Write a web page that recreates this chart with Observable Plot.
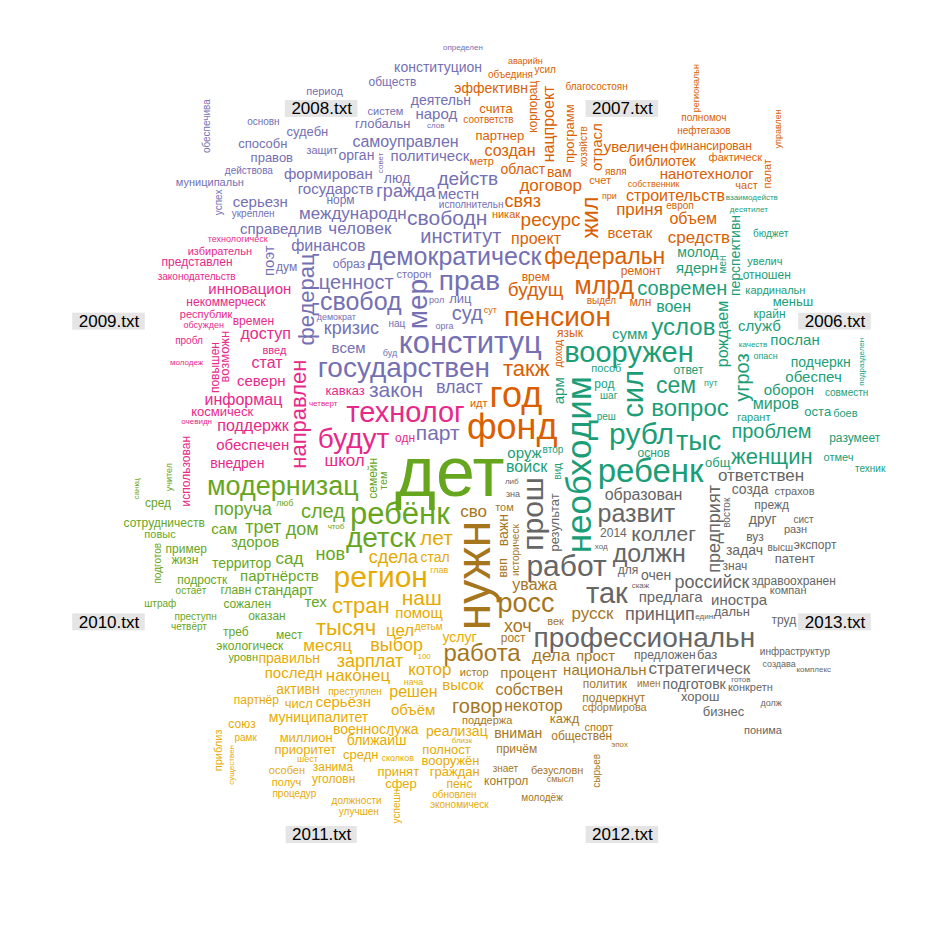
<!DOCTYPE html>
<html><head><meta charset="utf-8">
<script src="https://cdn.jsdelivr.net/npm/d3@7"></script>
<script src="https://cdn.jsdelivr.net/npm/@observablehq/plot@0.6"></script>
<style>html,body{margin:0;padding:0;background:#fff;overflow:hidden}</style>
</head><body><div id="chart"></div>
<script>
const groups = ["2006.txt","2007.txt","2008.txt","2009.txt","2010.txt","2011.txt","2012.txt","2013.txt"];
const palette = ["#1B9E77","#D95F02","#7570B3","#E7298A","#66A61E","#E6AB02","#A6761D","#666666"];

// [word, weight] (weight ~ relative frequency score)
const words2006 = [["необходим",35],["ребенк",33],["вооружен",29],["рубл",30],["сил",29],["тыс",27],["вопрос",24],["услов",24],["сем",23],["женщин",22],["современ",20],["проблем",20],["угроз",20],["арм",15],["войск",16],["воен",16],["оруж",15],["оста",13],["род",12],["рождаем",16],["миров",16],["ядерн",15],["молод",14],["гарант",11],["основ",12],["перспективн",14],["разумеет",12],["увелич",11],["бюджет",10],["пособ",11],["оборон",15],["реш",10],["опасн",9],["качеств",8],["втор",10],["пут",9],["шаг",10],["подчеркн",14],["обеспеч",15],["отмеч",11],["кардинальн",11],["сумм",15],["ответ",12],["десятилет",8],["служб",15],["техник",10],["общ",13],["боев",11],["послан",15],["отношен",12],["совместн",10],["меньш",13],["подразделен",8],["взаимодейств",8],["крайн",12],["мен",10],["вид",10]];
const words2007 = [["фонд",36],["год",36],["пенсион",28],["млрд",25],["федеральн",23],["такж",22],["жил",23],["средств",17],["строительств",16],["будущ",19],["связ",18],["приня",17],["ресурс",19],["вам",14],["договор",17],["проект",16],["нанотехнолог",15],["нацпроект",16],["объем",16],["создан",16],["эффективн",14],["увеличен",15],["отрасл",15],["корпорац",12],["библиотек",14],["фактическ",11],["ремонт",12],["врем",12],["программ",13],["европ",10],["доход",10],["партнер",13],["област",14],["соответств",10],["метр",11],["явля",10],["благосостоян",10],["управлен",9],["хозяйств",10],["региональн",9],["собственник",9],["финансирован",12],["нефтегазов",10],["объединя",10],["палат",11],["полномоч",10],["аварийн",9],["счет",11],["никак",11],["счита",13],["идт",11],["язык",12],["усил",10],["част",11],["млн",12],["выдел",10],["при",9],["сут",9],["всетак",15]];
const words2008 = [["конституц",31],["государствен",28],["демократическ",25],["свобод",25],["свободн",21],["прав",28],["институт",20],["федерац",22],["мер",28],["ценност",20],["суд",20],["закон",21],["власт",18],["гражда",18],["финансов",16],["международн",17],["человек",17],["кризис",18],["политическ",15],["действ",19],["парт",21],["всем",15],["орган",14],["самоуправлен",16],["формирован",15],["государств",15],["серьезн",15],["местн",15],["справедлив",15],["муниципальн",11],["укреплен",10],["основн",10],["систем",11],["дум",12],["норм",12],["орга",9],["поэт",15],["лиц",13],["защит",11],["судебн",13],["народ",15],["глобальн",13],["образ",12],["способн",13],["правов",13],["сторон",11],["конституцион",14],["обеспечива",10],["действова",10],["период",11],["исполнительн",10],["обществ",12],["определен",8],["совет",8],["рол",9],["демократ",9],["нац",10],["буд",9],["успех",10],["слов",8],["люд",14],["деятельн",14]];
const words2009 = [["технолог",29],["будут",28],["направлен",22],["информац",16],["обеспечен",15],["инновацион",15],["поддержк",16],["школ",17],["доступ",16],["северн",15],["стат",16],["возможн",13],["космическ",13],["некоммерческ",12],["республик",11],["избирательн",11],["обсужден",9],["четверт",8],["использован",12],["внедрен",14],["времен",12],["одн",12],["пробл",10],["технологическ",9],["законодательств",10],["повышен",12],["представлен",12],["кавказ",13],["введ",11],["очевидн",8],["молодеж",8]];
const words2010 = [["дет",70],["ребёнк",31],["модернизац",27],["детск",28],["след",20],["сад",17],["дом",18],["нов",18],["поруча",18],["трет",18],["партнёрств",15],["стандарт",14],["территор",14],["тех",15],["тем",11],["санкц",8],["оказан",12],["семейн",12],["подготов",10],["преступн",10],["сожален",12],["штраф",10],["мест",12],["люб",9],["сотрудничеств",12],["уровн",11],["пример",12],["здоров",15],["экологическ",12],["четвёрт",10],["главн",12],["сам",15],["повыс",11],["подростк",12],["сред",12],["учител",9],["остаёт",10],["жизн",12],["треб",12],["чтоб",8]];
const words2011 = [["регион",30],["стран",22],["тысяч",22],["наш",21],["лет",21],["сдела",18],["выбор",18],["наконец",17],["решен",16],["зарплат",18],["цел",17],["котор",17],["объём",15],["последн",15],["высок",15],["помощ",15],["активн",14],["серьёзн",15],["правильн",14],["муниципалитет",14],["военнослужа",14],["реализац",14],["полност",13],["ближайш",14],["стал",14],["средн",13],["вооружён",13],["миллион",13],["граждан",13],["партнёр",12],["союз",12],["занима",12],["преступлен",10],["обновлен",10],["должности",10],["экономическ",10],["улучшен",10],["сколков",9],["приоритет",13],["особен",11],["пенс",12],["успешн",10],["приблиз",11],["близк",8],["услуг",14],["процедур",10],["уголовн",12],["принят",13],["существен",8],["глав",9],["нача",9],["100",8],["шест",9],["получ",11],["рамк",10],["числ",13],["детьм",10],["месяц",17],["сфер",13]];
const words2012 = [["нужн",48],["росс",27],["работа",24],["говор",20],["уважа",16],["сво",17],["процент",15],["дела",17],["некотор",16],["кажд",13],["русск",17],["важн",14],["причём",12],["подчеркнут",12],["политик",12],["смысл",9],["том",11],["истор",11],["собствен",16],["национальн",15],["ввп",12],["рост",12],["сформирова",11],["век",11],["спорт",11],["безусловн",11],["поддержа",11],["сырьев",10],["историческ",10],["молодёж",10],["обществен",12],["контрол",12],["имен",10],["знает",10],["хоч",18],["эпох",8],["вниман",14],["прост",15]];
const words2013 = [["работ",30],["так",29],["прош",30],["развит",25],["должн",25],["профессиональн",28],["принцип",18],["российск",18],["стратегическ",17],["коллег",21],["ответствен",17],["предприят",18],["образован",16],["иностра",15],["очен",14],["задач",14],["дальн",13],["разн",11],["зна",9],["предлага",15],["готов",8],["труд",12],["хорош",13],["подготовк",14],["2014",12],["предложен",12],["бизнес",13],["сист",10],["друг",14],["здравоохранен",12],["конкретн",11],["патент",13],["высш",10],["восток",10],["долж",9],["ход",8],["комплекс",8],["инфраструктур",10],["скаж",8],["компан",11],["страхов",11],["понима",11],["знач",12],["созда",14],["создава",9],["един",8],["экспорт",12],["результат",13],["баз",13],["вуз",12],["для",12],["либ",8],["прежд",12]];

// words drawn vertically in the picture
const rotatedWords = ["необходим","нужн","прош","сил","жил","мер","федерац","направлен","угроз","арм","рождаем","перспективн","предприят","нацпроект","отрасл","корпорац","программ","доход","управлен","хозяйств","региональн","палат","поэт","обеспечива","совет","использован","возможн","повышен","семейн","подготов","тем","санкц","учител","приблиз","успешн","существен","важн","ввп","сырьев","историческ","восток","результат","подразделен","успех","мен","вид"];

const allLists = [words2006, words2007, words2008, words2009, words2010, words2011, words2012, words2013];
const rotSet = new Set(rotatedWords);

// ---- layout (comparison-cloud style spiral, one angular sector per group) ----
const PX = 943 / 1.08;                 // pixels per unit, domain [-0.04, 1.04]
const FONT = '"Liberation Sans", Arial, sans-serif';
const ctx = document.createElement("canvas").getContext("2d");
const textWidth = (t, fs) => { ctx.font = `${fs}px ${FONT}`; return ctx.measureText(t).width; };
const maxW = d3.max(allLists.flat(), d => d[1]);
const fontScale = d3.scaleLinear().domain([0, maxW]).range([0, 70]);

const TAU = 2 * Math.PI;
const bins = d3.range(groups.length + 1).map(i => i * TAU / groups.length);
const boxes = [];

const labelFs = 17;
const labels = groups.map((name, i) => {
  const th = (bins[i] + bins[i + 1]) / 2;
  const x = 0.5 + 0.45 * Math.cos(th), y = 0.5 + 0.45 * Math.sin(th);
  const w = textWidth(name, labelFs) * 1.2 / PX, h = labelFs / PX;
  boxes.push([x - w / 2, y - h / 2, w, h]);
  return {name, x, y, x1: x - w / 2, x2: x + w / 2, y1: y - h / 2, y2: y + h / 2};
});

let items = [];
allLists.forEach((list, g) => list.forEach(([word, weight], j) => {
  const fs = fontScale(weight);
  items.push({word, weight, g, group: groups[g], fs, vertical: rotSet.has(word),
    w: textWidth(word, fs) / PX, h: fs * 0.8 / PX, order: g * 1000 + j});
}));
items.sort((a, b) => d3.descending(a.weight, b.weight) || a.order - b.order);

function overlaps(b) {
  for (const o of boxes)
    if (b[0] < o[0] + o[2] && b[0] + b[2] > o[0] && b[1] < o[1] + o[3] && b[1] + b[3] > o[1]) return true;
  return false;
}
function place(item, k, thetaStep) {
  let r = 0, theta = (k * 2.399963229728653) % TAU, x = 0.5, y = 0.5;
  const rStep = 0.05;
  const wid = item.vertical ? item.h : item.w, ht = item.vertical ? item.w : item.h;
  while (true) {
    if (theta > bins[item.g] && theta < bins[item.g + 1]) {
      const b = [x - wid / 2, y - ht / 2, wid, ht];
      if (b[0] > 0 && b[1] > 0 && b[0] + wid < 1 && b[1] + ht < 1 && !overlaps(b)) { boxes.push(b); return [x, y]; }
    }
    if (r > Math.SQRT1_2) return null;
    theta += thetaStep; if (theta > TAU) theta -= TAU;
    r += rStep * thetaStep / TAU;
    x = 0.5 + r * Math.cos(theta); y = 0.5 + r * Math.sin(theta);
  }
}
const placed = [];
items.forEach((it, k) => {
  let p = place(it, k, 0.1);
  if (!p) p = place(it, k + 7, 0.02);
  if (p) placed.push({...it, x: p[0], y: p[1]});
});

const chart = Plot.plot({
  width: 943, height: 943, margin: 0,
  style: {fontFamily: FONT, background: "#fff"},
  x: {domain: [-0.04, 1.04], axis: null},
  y: {domain: [-0.04, 1.04], axis: null},
  color: {domain: groups, range: palette},
  marks: [
    Plot.rect(labels, {x1: "x1", x2: "x2", y1: "y1", y2: "y2", fill: "#e5e5e5"}),
    Plot.text(labels, {x: "x", y: "y", text: "name", fontSize: labelFs, fill: "#000"}),
    Plot.text(placed, {x: "x", y: "y", text: "word", fill: "group", fontSize: "fs",
      rotate: d => d.vertical ? -90 : 0, textAnchor: "middle", lineAnchor: "middle"})
  ]
});
document.getElementById("chart").appendChild(chart);
</script></body></html>
